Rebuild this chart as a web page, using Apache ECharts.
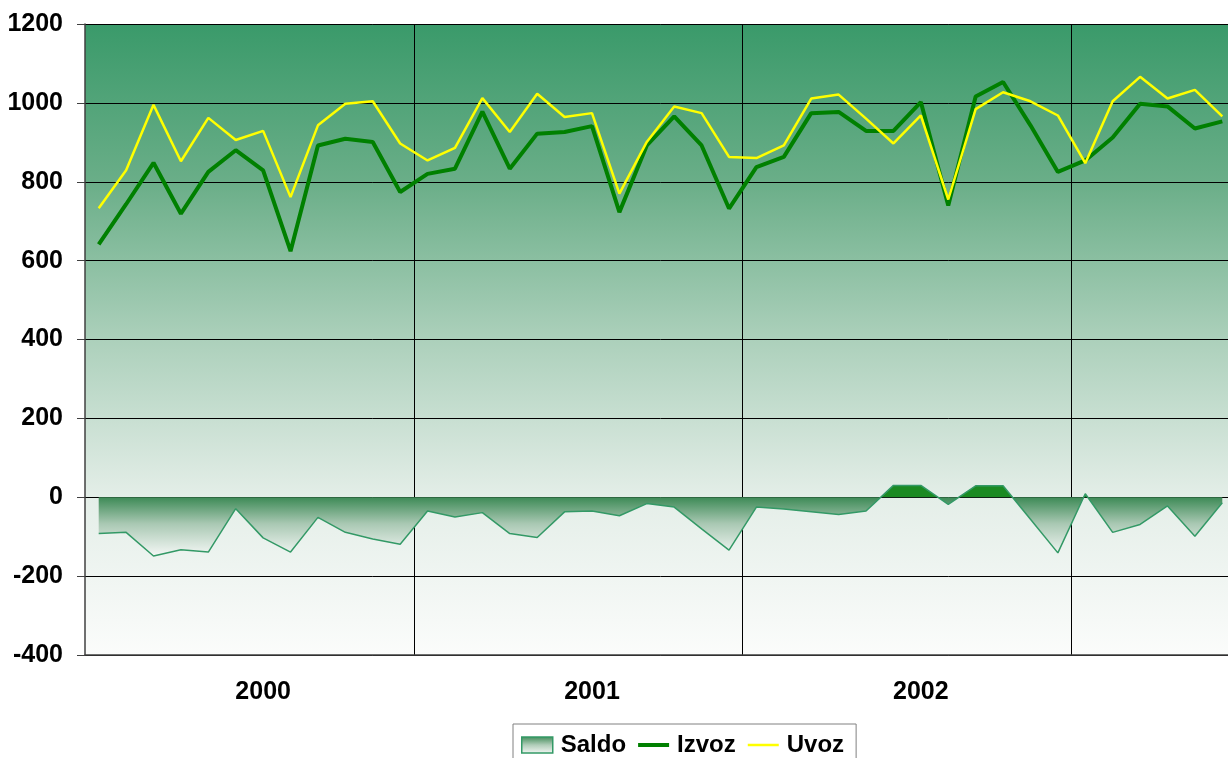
<!DOCTYPE html>
<html>
<head>
<meta charset="utf-8">
<script src="https://cdn.jsdelivr.net/npm/echarts@6/dist/echarts.min.js"></script>
<style>
html,body{margin:0;padding:0;background:#fff;overflow:hidden;width:1228px;height:758px;}
#c{width:1236px;height:758px;}
</style>
</head>
<body>
<div id="c"></div>
<script>
// ---- data ----
const categories = [
  '2000-01','2000-02','2000-03','2000-04','2000-05','2000-06','2000-07','2000-08','2000-09','2000-10','2000-11','2000-12',
  '2001-01','2001-02','2001-03','2001-04','2001-05','2001-06','2001-07','2001-08','2001-09','2001-10','2001-11','2001-12',
  '2002-01','2002-02','2002-03','2002-04','2002-05','2002-06','2002-07','2002-08','2002-09','2002-10','2002-11','2002-12',
  '2003-01','2003-02','2003-03','2003-04','2003-05','2003-06'
];
const izvoz = [
  641, 743, 848, 719, 825, 880, 829, 624, 892, 909, 901, 774,
  820, 833, 978, 833, 922, 926, 941, 723, 892, 966, 892, 732,
  837, 863, 974, 977, 929, 929, 1002, 740, 1016, 1053, 943, 825,
  854, 912, 998, 991, 935, 953
];
const uvoz = [
  733, 829, 995, 852, 962, 906, 929, 761, 943, 998, 1004, 897,
  854, 886, 1012, 926, 1023, 964, 974, 770, 901, 991, 974, 863,
  860, 892, 1011, 1021, 960, 897, 968, 755, 984, 1027, 1004, 968,
  847, 1004, 1066, 1011, 1033, 966
];
const saldo = [
  -92, -89, -149, -133, -139, -29, -103, -139, -51, -89, -106, -119,
  -35, -50, -39, -92, -102, -37, -35, -47, -16, -25, -80, -134,
  -25, -30, -37, -44, -35, 30, 30, -18, 29, 29, -56, -141,
  9, -89, -69, -22, -99, -14
];
const yTicks = { min: -400, max: 1200, step: 200 };
const seriesNames = ['Saldo', 'Izvoz', 'Uvoz'];

// ---- styling ----
const FONT = "'Liberation Sans', Arial, sans-serif";
const G = echarts.graphic;
const sMax = Math.max(0, ...saldo), sMin = Math.min(0, ...saldo);
const zOff = sMax / (sMax - sMin);
const saldoFill = new G.LinearGradient(0, 0, 0, 1, [
  { offset: 0, color: '#1b8a22' },
  { offset: Math.max(0, zOff - 0.001), color: '#1b8a22' },
  { offset: zOff, color: '#3d8a56' },
  { offset: zOff + (1 - zOff) * 0.45, color: '#a9c8b3' },
  { offset: 1, color: '#f5f8f6' }
]);
const legendSaldoFill = new G.LinearGradient(0, 0, 0, 1, [
  { offset: 0, color: '#3d8a56' },
  { offset: 0.5, color: '#b0cdb9' },
  { offset: 1, color: '#f5f8f6' }
]);
const plotBg = new G.LinearGradient(0, 0, 0, 1, [
  { offset: 0, color: '#3a9a6a' },
  { offset: 0.25, color: '#6aae88' },
  { offset: 0.5, color: '#acd0bb' },
  { offset: 0.75, color: '#e4eee8' },
  { offset: 1, color: '#fbfcfb' }
]);

const chart = echarts.init(document.getElementById('c'), null, { renderer: 'canvas' });
chart.setOption({
  animation: false,
  backgroundColor: '#ffffff',
  textStyle: { fontFamily: FONT },
  grid: {
    left: 85, top: 24, right: 0, bottom: 103,
    show: true, backgroundColor: plotBg, borderWidth: 0
  },
  legend: {
    top: 724, left: 513,
    padding: [9, 12, 9, 8],
    backgroundColor: '#ffffff',
    borderColor: '#808080', borderWidth: 1, borderRadius: 0,
    itemWidth: 31, itemHeight: 16, itemGap: 12,
    symbolKeepAspect: true,
    textStyle: { fontFamily: FONT, fontWeight: 'bold', fontSize: 24, color: '#000', padding: [0, 0, 0, 3] },
    data: [
      { name: seriesNames[0], icon: 'rect', itemStyle: { color: legendSaldoFill, borderColor: '#339966', borderWidth: 1.5 } },
      { name: seriesNames[1], icon: 'path://M0,0 H31 V4 H0 Z', itemStyle: { color: '#008000', borderWidth: 0 } },
      { name: seriesNames[2], icon: 'path://M0,0 H31 V2.5 H0 Z', itemStyle: { color: '#ffff00', borderWidth: 0 } }
    ]
  },
  xAxis: {
    type: 'category',
    data: categories,
    boundaryGap: true,
    axisLine: { onZero: false, lineStyle: { color: '#404040', width: 1.5 } },
    axisTick: { show: false },
    axisLabel: {
      interval: function (i) { return i % 12 === 6; },
      formatter: function (v) { return v.slice(0, 4); },
      margin: 25,
      fontFamily: FONT, fontWeight: 'bold', fontSize: 25, color: '#000'
    },
    splitLine: {
      show: true,
      interval: function (i) { return i > 0 && i % 12 === 0; },
      lineStyle: { color: '#000', width: 1 }
    }
  },
  yAxis: {
    type: 'value',
    min: yTicks.min, max: yTicks.max, interval: yTicks.step,
    axisLine: { show: true, lineStyle: { color: '#404040', width: 1.5 } },
    axisTick: { show: true, length: 8, lineStyle: { color: '#404040' } },
    axisLabel: {
      margin: 22, fontFamily: FONT, fontWeight: 'bold', fontSize: 25, color: '#000',
      formatter: function (v) { return String(v); }
    },
    splitLine: { show: true, lineStyle: { color: '#000', width: 1 } }
  },
  series: [
    {
      name: seriesNames[0], type: 'line', data: saldo,
      symbol: 'none', smooth: false,
      lineStyle: { color: '#339966', width: 1.5 },
      itemStyle: { color: '#339966' },
      areaStyle: { color: saldoFill, opacity: 1, origin: 0 },
      z: 2
    },
    {
      name: seriesNames[1], type: 'line', data: izvoz,
      symbol: 'none', smooth: false,
      lineStyle: { color: '#008000', width: 4 },
      itemStyle: { color: '#008000' },
      z: 3
    },
    {
      name: seriesNames[2], type: 'line', data: uvoz,
      symbol: 'none', smooth: false,
      lineStyle: { color: '#ffff00', width: 2.5 },
      itemStyle: { color: '#ffff00' },
      z: 4
    }
  ]
});
</script>
</body>
</html>
